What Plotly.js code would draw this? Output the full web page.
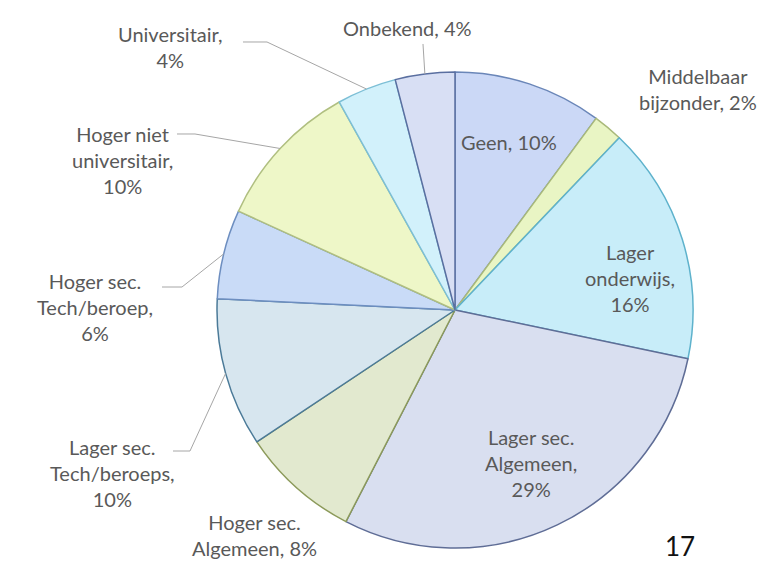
<!DOCTYPE html>
<html>
<head>
<meta charset="utf-8">
<script src="https://cdn.plot.ly/plotly-3.0.1.min.js"></script>
<style>html,body{margin:0;padding:0;background:#fff;}#chart{width:770px;height:563px;}</style>
</head>
<body>
<div id="chart"></div>
<script>
// ---- data ----
const categories = ["Geen","Middelbaar bijzonder","Lager onderwijs","Lager sec. Algemeen","Hoger sec. Algemeen","Lager sec. Tech/beroeps","Hoger sec. Tech/beroep","Hoger niet universitair","Universitair","Onbekend"];
const values = [10, 2, 16, 29, 8, 10, 6, 10, 4, 4];
const displayLabels = ["Geen","Middelbaar<br>bijzonder","Lager<br>onderwijs","Lager sec.<br>Algemeen","Hoger sec.<br>Algemeen","Lager sec.<br>Tech/beroeps","Hoger sec.<br>Tech/beroep","Hoger niet<br>universitair","Universitair","Onbekend"];
const separators = [", ", ", ", ",<br>", ",<br>", ", ", ",<br>", ",<br>", ",<br>", ",<br>", ", "];
const pageNumber = "17";

// ---- styles ----
const fills = ["#cbd8f6","#e9f5c4","#c8edf9","#d9dff0","#e2e9cf","#d7e6ef","#c9dbf7","#eef7c8","#d2f1fb","#d8dff4"];
const borders = ["#6a86b8","#a9b97a","#5eb2cc","#5f6d96","#8c9a5a","#4b7a98","#6d8ec0","#b0bf80","#7cbfd6","#5a6fa0"];

const W = 770, H = 563;
const CX = 455, CY = 310, R = 238;
const px = (x) => x / W;
const py = (y) => 1 - y / H;

// label layout (pixel centres), and leader-line start points
const labelPos = [
  {x:509, y:142}, {x:698, y:89}, {x:630, y:278}, {x:531, y:463}, {x:254, y:535},
  {x:112, y:473}, {x:95, y:307}, {x:122, y:160}, {x:170, y:47}, {x:408, y:28}
];
const leaders = {
  9: [[423,44]],
  8: [[243,42],[267,42]],
  7: [[177,134],[195,134]],
  6: [[162,287],[182,287]],
  5: [[173,451],[190,451]]
};

const total = values.reduce((a,b)=>a+b,0);
let cum = 0;
const anchors = values.map(v => {
  const mid = (cum + v/2) / total * 2 * Math.PI;
  cum += v;
  return [CX + R*Math.sin(mid), CY - R*Math.cos(mid)];
});

const font = {family: "Lato, 'Open Sans', sans-serif", size: 20, color: "#595959"};

const annotations = categories.map((c,i) => ({
  x: px(labelPos[i].x), y: py(labelPos[i].y), xref:"paper", yref:"paper",
  xanchor:"center", yanchor:"middle", showarrow:false, align:"center",
  text: displayLabels[i] + separators[i] + values[i] + "%", font: font
}));
annotations.push({x: px(680), y: 0, xref:"paper", yref:"paper", xanchor:"center", yanchor:"bottom",
  borderpad:0, showarrow:false, text: pageNumber, font:{family:"Lato, sans-serif", size:26, color:"#111"}});

const shapes = Object.keys(leaders).map(k => {
  const pts = leaders[k].concat([anchors[k]]);
  const d = pts.map((p,j) => (j? "L":"M") + px(p[0]).toFixed(5) + "," + py(p[1]).toFixed(5)).join(" ");
  return {type:"path", xref:"paper", yref:"paper", path:d, line:{color:"#a6a6a6", width:1}};
});

const trace = {
  type: "pie",
  labels: categories,
  values: values,
  sort: false,
  direction: "clockwise",
  rotation: 0,
  textinfo: "none",
  hoverinfo: "label+percent",
  marker: {colors: fills, line: {color: borders, width: 1.5}},
  domain: {x: [px(CX-R), px(CX+R)], y: [py(CY+R), py(CY-R)]},
  showlegend: false
};

const layout = {
  width: W, height: H,
  margin: {l:0, r:0, t:0, b:0},
  paper_bgcolor: "#ffffff",
  showlegend: false,
  annotations: annotations,
  shapes: shapes
};

Plotly.newPlot("chart", [trace], layout, {displayModeBar:false, staticPlot:true});
</script>
</body>
</html>
